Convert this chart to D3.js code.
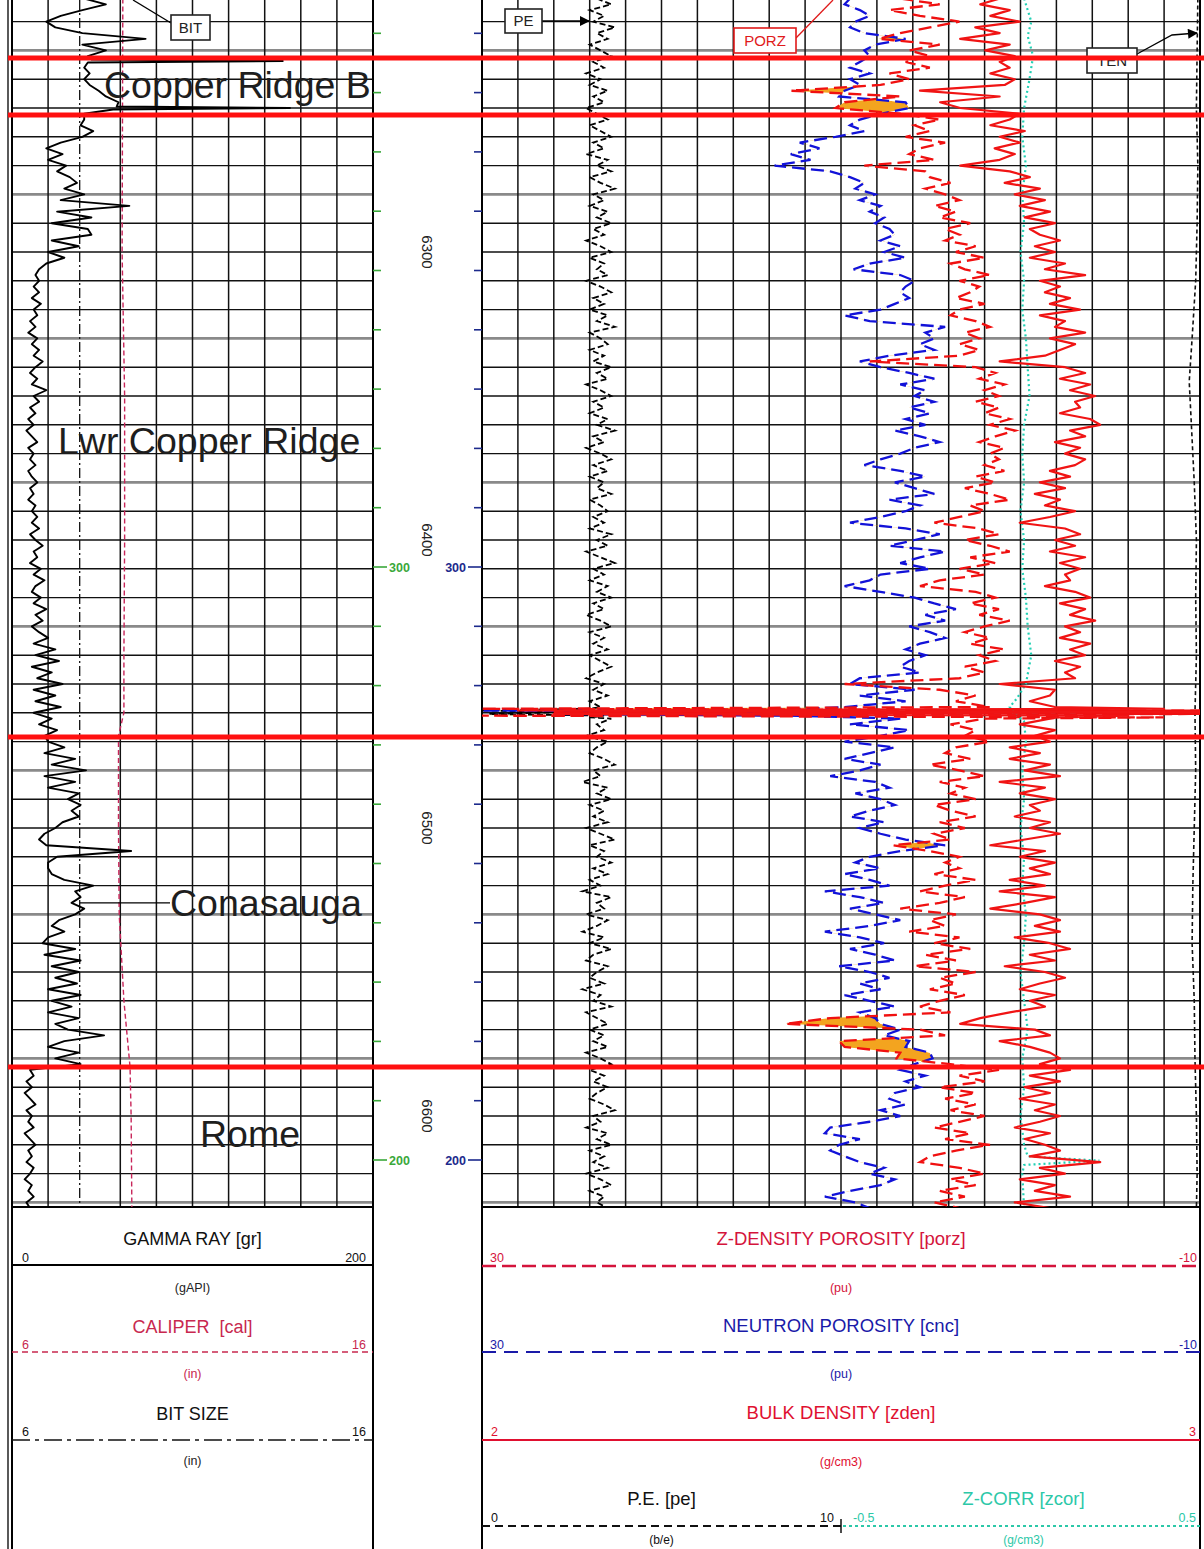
<!DOCTYPE html>
<html><head><meta charset="utf-8">
<script src="https://cdn.jsdelivr.net/npm/d3@7"></script>
<style>body{margin:0;background:#fff}svg{display:block}</style>
</head><body>
<script>
// ---------------- DATA ----------------
const depthStart = 6212, depthStep = 2;   // ft, sampling of the curve arrays below
const GR = [40,52,39,27,19,24,39,74,39,52,42,
42,40,43,40,43,48,52,59,60,40,
40,38,45,39,27,19,28,20,30,25,
32,36,29,40,27,65,25,44,22,42,
44,22,37,20,29,19,15,13,15,12,
15,11,16,12,14,10,13,9,14,11,
15,12,17,13,10,14,11,19,12,15,
10,13,9,12,8,11,14,9,12,10,
13,9,11,14,10,12,9,13,11,14,
11,15,10,13,17,12,14,10,16,12,
18,13,11,16,12,19,13,17,11,15,
20,12,24,13,26,11,22,14,28,12,
24,13,27,12,22,15,25,18,20,29,
18,35,22,41,18,35,20,37,31,38,
33,37,28,24,18,15,19,66,25,20,
20,22,29,45,35,38,33,40,35,26,
22,29,20,17,35,18,38,22,37,24,
36,20,38,22,33,20,37,24,31,51,
29,20,37,24,38,10,12,8,11,7,
10,13,8,11,9,12,7,10,13,9,
11,8,12,10,7,11,9,12,8,10];
// thin GR spikes inside Copper Ridge B
const grSpikeDepth = [6233.2,6233.7,6234.2, 6249.5,6250.0,6250.5];
const grSpikeGR    = [44,150,42, 58,154,56];
const PE = [3.2,3.6,3.0,3.4,3.1,3.7,3.2,3.5,3.0,3.3,3.6,
3.1,3.4,2.9,3.3,3.0,3.5,3.1,3.4,2.9,3.2,
3.5,3.0,3.3,3.6,3.1,3.4,2.9,3.5,3.2,3.6,
3.0,3.3,3.7,3.1,3.4,3.0,3.5,3.2,3.6,3.1,
3.4,2.9,3.3,3.6,3.0,3.4,3.2,3.5,2.9,3.3,
3.6,3.1,3.4,3.0,3.5,3.2,3.7,3.0,3.3,3.5,
3.0,3.4,3.1,3.6,3.2,3.5,2.9,3.3,3.6,3.1,
3.4,3.0,3.5,3.2,3.7,3.1,3.4,2.9,3.3,3.6,
3.1,3.5,3.0,3.4,3.2,3.6,3.0,3.3,3.5,3.1,
3.4,3.0,3.6,3.2,3.5,2.9,3.3,3.7,3.1,3.4,
3.0,3.5,3.2,3.6,3.1,3.4,2.9,3.3,3.6,3.0,
3.4,3.1,3.5,3.0,3.3,3.6,3.2,2.9,3.4,3.1,
3.5,3.0,3.3,3.1,3.6,3.2,3.4,2.9,3.5,3.2,
3.0,3.4,3.7,3.1,3.3,2.8,3.5,3.2,3.6,3.0,
3.4,3.1,3.5,2.9,3.3,3.7,3.0,3.4,3.2,3.6,
3.1,3.5,3.0,3.3,2.8,3.6,3.2,3.4,2.9,3.5,
3.2,2.8,3.4,3.0,3.6,3.1,2.9,3.5,3.2,3.0,
3.4,2.8,3.3,3.1,3.6,2.9,3.2,3.5,3.0,3.4,
3.1,3.5,2.9,3.3,3.6,3.0,3.4,3.1,3.5,3.2,
3.0,3.4,3.7,3.1,3.3,2.9,3.5,3.2,3.6,3.0,
3.4,3.1,3.5,2.9,3.3,3.6,3.0,3.4,3.2,3.5];
const NPHI = [9.5,9.8,8.95,8.4,9.2,9.5,8.7,6.4,8.1,8.7,8.4,
8.95,9.5,8.4,9.5,8.95,9.8,10.1,6.4,6.2,7.8,
8.95,9.5,8.7,10.3,12.3,11.2,12.8,11.7,13.7,10.6,
9.5,8.7,9.2,8.1,8.95,7.8,8.4,7.6,8.1,7.3,
7.0,7.8,6.7,7.6,6.4,8.4,9.3,6.7,5.9,6.4,
6.7,6.2,7.0,7.8,9.8,8.4,4.2,5.3,4.8,5.6,
4.8,7.3,8.95,7.8,6.2,4.8,6.7,5.3,5.9,4.8,
6.2,5.05,6.4,5.3,7.0,5.6,4.5,5.9,6.7,7.8,
8.7,6.7,5.3,7.0,5.9,4.8,7.3,5.6,6.4,7.8,
9.5,6.4,4.5,5.9,7.3,4.2,5.6,6.7,5.05,7.8,
8.4,9.8,7.8,5.9,4.8,3.6,5.3,4.2,6.2,5.05,
4.2,5.6,6.4,5.3,6.2,6.7,5.6,8.95,9.5,5.9,
8.95,6.4,9.8,8.0,6.7,9.5,6.2,7.8,9.8,7.0,
8.4,9.8,7.8,8.95,10.6,8.1,7.3,9.2,7.8,7.0,
8.4,9.5,7.6,8.95,7.8,6.4,4.2,6.7,8.4,9.2,
7.8,9.8,8.4,7.3,10.9,8.95,7.6,9.5,8.1,6.7,
8.4,10.9,8.95,7.6,9.5,8.1,7.0,10.1,8.4,7.3,
8.95,7.8,9.8,8.4,7.0,8.95,8.1,7.8,6.7,7.6,
6.2,6.4,5.05,4.9,5.9,6.7,5.3,6.4,5.6,7.0,
7.3,6.4,7.8,6.7,8.4,10.6,10.9,8.95,10.1,10.6,
9.8,8.95,7.6,8.4,7.0,7.8,9.5,10.9,9.2,8.4];
const PORZ = [6.7,4.5,7.3,5.6,3.4,5.05,6.7,7.9,4.5,6.2,5.05,
6.4,5.05,7.3,6.2,7.8,12.8,6.7,9.8,10.3,6.7,
4.5,5.9,5.05,6.4,4.2,5.6,6.2,4.8,8.7,5.3,
5.05,3.9,5.3,4.2,3.4,4.8,3.6,4.5,2.8,4.2,
3.4,4.2,2.5,3.6,2.0,3.9,3.1,1.7,3.4,2.3,
2.8,3.6,2.0,3.4,3.9,2.5,1.7,3.1,2.3,3.4,
2.3,3.4,8.4,2.5,1.4,2.3,0.9,2.0,1.2,2.5,
1.2,2.0,0.6,1.7,0.3,1.4,2.3,0.9,1.7,1.2,
2.0,0.9,2.5,1.4,3.1,1.7,0.6,2.8,2.0,3.4,
4.8,2.3,1.2,3.1,1.7,0.6,2.8,1.4,3.4,2.0,
4.5,5.6,2.5,1.4,2.8,1.2,2.3,0.6,2.0,3.1,
1.7,2.8,0.9,2.3,1.4,3.1,2.0,3.4,9.8,4.5,
2.5,3.6,1.7,3.4,2.0,3.9,2.5,3.1,1.7,3.6,
4.2,2.8,5.05,3.4,2.0,4.5,3.1,3.9,2.5,4.8,
3.9,2.5,4.5,3.1,4.8,3.9,7.1,5.05,3.4,4.2,
3.4,4.8,2.5,4.2,5.6,3.1,4.5,6.7,3.6,5.05,
4.2,6.2,3.4,4.8,2.8,5.3,3.6,5.9,2.5,4.5,
3.6,5.05,3.1,4.5,5.6,3.9,10.6,13.1,5.6,4.2,
10.1,9.8,6.7,6.9,3.9,1.2,3.4,2.0,4.5,2.5,
4.2,2.5,3.9,2.0,3.4,4.8,2.8,4.2,1.7,3.6,
5.05,5.6,3.4,2.0,3.9,2.5,4.5,3.1,4.8,3.4];
const ZDEN = [2.721,2.694,2.735,2.708,2.749,2.687,2.721,2.666,2.735,2.701,2.742,
2.721,2.735,2.708,2.742,2.728,2.610,2.721,2.638,2.666,2.749,
2.735,2.708,2.756,2.721,2.749,2.714,2.742,2.721,2.666,2.735,
2.763,2.728,2.777,2.742,2.784,2.749,2.791,2.756,2.798,2.763,
2.777,2.805,2.770,2.798,2.763,2.812,2.784,2.840,2.777,2.805,
2.784,2.819,2.791,2.833,2.777,2.812,2.798,2.840,2.791,2.826,
2.805,2.784,2.721,2.812,2.840,2.805,2.847,2.819,2.854,2.826,
2.833,2.805,2.847,2.861,2.819,2.840,2.798,2.833,2.812,2.840,
2.826,2.791,2.819,2.777,2.812,2.770,2.805,2.784,2.826,2.791,
2.749,2.812,2.833,2.798,2.826,2.791,2.840,2.805,2.833,2.812,
2.819,2.784,2.826,2.847,2.805,2.840,2.819,2.854,2.812,2.833,
2.805,2.847,2.819,2.840,2.798,2.833,2.812,2.826,2.721,2.798,
2.791,2.763,2.798,2.777,2.791,2.749,2.798,2.770,2.791,2.735,
2.777,2.735,2.791,2.756,2.805,2.721,2.784,2.749,2.798,2.763,
2.777,2.742,2.791,2.763,2.805,2.756,2.708,2.784,2.749,2.798,
2.763,2.791,2.735,2.784,2.721,2.798,2.756,2.708,2.777,2.805,
2.770,2.805,2.742,2.791,2.819,2.763,2.798,2.728,2.784,2.812,
2.777,2.749,2.798,2.763,2.784,2.735,2.694,2.666,2.770,2.791,
2.721,2.763,2.791,2.805,2.777,2.819,2.763,2.805,2.756,2.791,
2.749,2.798,2.770,2.805,2.777,2.742,2.791,2.756,2.784,2.805,
2.763,2.861,2.777,2.812,2.749,2.798,2.770,2.819,2.742,2.791];
// bad-data spike band (all density/neutron curves swing full scale)
const spikeDepth = [6458.6,6459.2,6459.8,6460.4,6461.0,6461.6];
const spikePORZ  = [30,-10,26,-10,30,-8];
const spikeNPHI  = [12,30,10,26,13,9];
const spikeZDEN  = [2.95,2.05,3.0,2.1,2.9,2.8];
const spikePE    = [3.0,0.0,2.2,0.2,3.4,3.0];
// smoother curves with their own depth samples
const calDepth = [6212,6300,6350,6400,6440,6460,6468,6500,6530,6560,6583,6600,6632];
const CAL      = [9.07,9.05,9.12,9.12,9.1,9.1,8.95,8.95,8.97,9.1,9.27,9.3,9.32];
const BIT_SIZE = 7.875;
const zcorDepth = [6212,6220,6225,6232,6240,6250,6260,6270,6280,6290,6300,6310,6320,6330,6340,6350,6360,6370,6380,6390,6400,6410,6420,6430,6440,6450,6455,6458,6460,6463,6470,6480,6490,6500,6510,6520,6530,6540,6550,6560,6570,6580,6590,6600,6610,6614,6615.5,6617,6620,6632];
const ZCOR = [0.01,0.03,0.02,0.035,0.025,0.01,0.005,0.015,0.005,0.01,0.0,0.01,0.005,0.015,0.02,0.025,0.01,0.005,0.01,0.0,0.01,0.005,0.015,0.02,0.03,0.015,-0.01,-0.03,-0.02,0.01,0.015,0.005,0.01,0.0,0.01,0.005,0.015,0.01,0.0,0.01,0.02,0.005,0.01,0.0,0.01,0.02,0.22,0.01,0.005,0.01];
const tenDepth = [6212,6230,6250,6270,6290,6310,6330,6345,6360,6380,6400,6420,6440,6460,6480,6500,6520,6540,6560,6580,6600,6620,6632];
const TEN = [4985,4980,4975,4985,4980,4970,4945,4925,4940,4960,4975,4970,4975,4965,4970,4960,4950,4945,4960,4965,4975,4980,4975];
// formation tops
const topDepths = [6232.6,6252.4,6468.4,6583.0];
const formationNames = ["Copper Ridge B","Lwr Copper Ridge","Conasauga","Rome"];
const formationLabelDepth = [6242,6365.3,6526,6606];
const depthLabels = [6300,6400,6500,6600];
const ttiLabels = [300,200];

// ---------------- LAYOUT ----------------
const W=1204,H=1549, TB=1207;
const LT={x0:12,x1:373}, RT={x0:482,x1:1200};
const FONT="'Liberation Sans',Arial,Helvetica,sans-serif";
const y = d3.scaleLinear().domain([6300,6400]).range([252,540]);
const xGR = d3.scaleLinear().domain([0,200]).range([LT.x0,LT.x1]);
const xCal = d3.scaleLinear().domain([6,16]).range([LT.x0,LT.x1]);
const xPE = d3.scaleLinear().domain([0,10]).range([RT.x0,(RT.x0+RT.x1)/2]);
const xPor = d3.scaleLinear().domain([30,-10]).range([RT.x0,RT.x1]);
const xDen = d3.scaleLinear().domain([2,3]).range([RT.x0,RT.x1]);
const xZc = d3.scaleLinear().domain([-0.5,0.5]).range([(RT.x0+RT.x1)/2,RT.x1]);
const xTen = d3.scaleLinear().domain([0,5000]).range([RT.x0,RT.x1]);
const tti = d3.scaleLinear().domain([300,200]).range([567,1160]);

const svg=d3.select("body").append("svg").attr("width",W).attr("height",H).style("font-family",FONT);
const defs=svg.append("defs");
defs.append("clipPath").attr("id","clipL").append("rect").attr("x",LT.x0).attr("y",0).attr("width",LT.x1-LT.x0).attr("height",TB);
defs.append("clipPath").attr("id","clipR").append("rect").attr("x",RT.x0).attr("y",0).attr("width",RT.x1-RT.x0).attr("height",TB);
defs.append("marker").attr("id","arr").attr("viewBox","0 0 10 10").attr("refX",9).attr("refY",5)
  .attr("markerWidth",16).attr("markerHeight",10).attr("orient","auto").attr("markerUnits","userSpaceOnUse")
  .append("path").attr("d","M0,0L10,5L0,10Z").attr("fill","#000");

// records
function mergeSpikes(base, spikes){
  const lo=d3.min(spikes,s=>s.d)-0.3, hi=d3.max(spikes,s=>s.d)+0.3;
  return base.filter(r=>r.d<lo||r.d>hi).concat(spikes).sort((a,b)=>a.d-b.d);
}
const rows = GR.map((g,i)=>({d:depthStart+i*depthStep, gr:g, pe:PE[i], nphi:NPHI[i], porz:PORZ[i], zden:ZDEN[i]}));
let grRows = rows.map(r=>({d:r.d, gr:r.gr}));
grRows = mergeSpikes(grRows, grSpikeDepth.slice(0,3).map((d,i)=>({d, gr:grSpikeGR[i]})));
grRows = mergeSpikes(grRows, grSpikeDepth.slice(3).map((d,i)=>({d, gr:grSpikeGR[i+3]})));
const rRows = mergeSpikes(rows, spikeDepth.map((d,i)=>({d, pe:spikePE[i], nphi:spikeNPHI[i], porz:spikePORZ[i], zden:spikeZDEN[i]})));

// ---------------- GRID ----------------
const grid=svg.append("g");
const gridDepths=d3.range(6220,6640,10).filter(d=>y(d)<TB);
[LT,RT].forEach(t=>{
  grid.selectAll(null).data(gridDepths).enter().append("line")
    .attr("x1",t.x0).attr("x2",t.x1).attr("y1",d=>y(d)).attr("y2",d=>y(d))
    .attr("stroke",d=>((d-6230)%50===0)?"#8a8a8a":"#111")
    .attr("stroke-width",d=>((d-6230)%50===0)?2.6:1.4);
});
grid.selectAll(null).data(d3.range(20,200,20).filter(v=>v!==40)).enter().append("line")
  .attr("x1",d=>xGR(d)).attr("x2",d=>xGR(d)).attr("y1",0).attr("y2",TB).attr("stroke","#111").attr("stroke-width",1.5);
const xDiv=d3.scaleLinear().domain([0,20]).range([RT.x0,RT.x1]);
grid.selectAll(null).data(d3.range(1,20)).enter().append("line")
  .attr("x1",d=>xDiv(d)).attr("x2",d=>xDiv(d)).attr("y1",0).attr("y2",TB).attr("stroke","#111").attr("stroke-width",1.5);

// borders
const bd=svg.append("g").attr("stroke","#000");
[[8,8,0,H,1.3],[LT.x0,LT.x0,0,H,2],[LT.x1,LT.x1,0,H,2],[RT.x0,RT.x0,0,H,2],[RT.x1,RT.x1,0,H,2]].forEach(a=>
  bd.append("line").attr("x1",a[0]).attr("x2",a[1]).attr("y1",a[2]).attr("y2",a[3]).attr("stroke-width",a[4]));
bd.append("line").attr("x1",LT.x0).attr("x2",LT.x1).attr("y1",TB).attr("y2",TB).attr("stroke-width",2);
bd.append("line").attr("x1",RT.x0).attr("x2",RT.x1).attr("y1",TB).attr("y2",TB).attr("stroke-width",2);

// depth track ticks & labels
const dt=svg.append("g");
const ttiTicks=d3.range(200,400,10).filter(v=>tti(v)>2&&tti(v)<TB-2);
dt.selectAll(null).data(ttiTicks).enter().append("line")
  .attr("x1",LT.x1).attr("x2",d=>ttiLabels.includes(d)?LT.x1+14:LT.x1+8)
  .attr("y1",d=>tti(d)).attr("y2",d=>tti(d)).attr("stroke","#3aa83a").attr("stroke-width",1.6);
dt.selectAll(null).data(ttiTicks).enter().append("line")
  .attr("x1",RT.x0).attr("x2",d=>ttiLabels.includes(d)?RT.x0-14:RT.x0-8)
  .attr("y1",d=>tti(d)).attr("y2",d=>tti(d)).attr("stroke","#1c2a8c").attr("stroke-width",1.6);
dt.selectAll(null).data(ttiLabels).enter().append("text").attr("x",LT.x1+16).attr("y",d=>tti(d)+4.5)
  .attr("font-size",12.5).attr("font-weight","bold").attr("fill","#3aa83a").text(d=>d);
dt.selectAll(null).data(ttiLabels).enter().append("text").attr("x",RT.x0-16).attr("y",d=>tti(d)+4.5)
  .attr("text-anchor","end").attr("font-size",12.5).attr("font-weight","bold").attr("fill","#1c2a8c").text(d=>d);
dt.selectAll(null).data(depthLabels).enter().append("text")
  .attr("transform",d=>`translate(427,${y(d)}) rotate(90)`).attr("text-anchor","middle").attr("dy","0.35em")
  .attr("font-size",15).attr("fill","#222").text(d=>d);

// ---------------- LEFT TRACK CURVES ----------------
const gL=svg.append("g").attr("clip-path","url(#clipL)");
gL.append("path").datum(d3.zip(calDepth,CAL)).attr("fill","none").attr("stroke","#c8265a").attr("stroke-width",1.4)
  .attr("stroke-dasharray","5,3").attr("d",d3.line().x(p=>xCal(p[1])).y(p=>y(p[0])));
gL.append("line").attr("x1",xCal(BIT_SIZE)).attr("x2",xCal(BIT_SIZE)).attr("y1",0).attr("y2",TB)
  .attr("stroke","#111").attr("stroke-width",1.3).attr("stroke-dasharray","10,3,2,3");
gL.append("path").datum(grRows).attr("fill","none").attr("stroke","#000").attr("stroke-width",1.9).attr("stroke-linejoin","round")
  .attr("d",d3.line().x(r=>xGR(r.gr)).y(r=>y(r.d)));

// ---------------- RIGHT TRACK CURVES ----------------
const gR=svg.append("g").attr("clip-path","url(#clipR)");
defs.append("clipPath").attr("id","clipX").append("path")
  .attr("d",d3.area().x0(RT.x0).x1(r=>xPor(r.nphi)).y(r=>y(r.d))(rRows));
gR.append("path").attr("clip-path","url(#clipX)").attr("fill","#f3a41f").attr("stroke","none")
  .attr("d",d3.area().x0(r=>xPor(r.porz)).x1(r=>xPor(r.nphi)).y(r=>y(r.d))(rRows));
gR.append("path").datum(tenDepth.map((d,i)=>[d,TEN[i]])).attr("fill","none").attr("stroke","#111").attr("stroke-width",1.6)
  .attr("stroke-dasharray","4,3").attr("d",d3.line().x(p=>xTen(p[1])).y(p=>y(p[0])));
gR.append("path").datum(rRows).attr("fill","none").attr("stroke","#000").attr("stroke-width",1.8)
  .attr("stroke-dasharray","6,3").attr("d",d3.line().x(r=>xPE(r.pe)).y(r=>y(r.d)));
gR.append("path").datum(rRows).attr("fill","none").attr("stroke","#1212d8").attr("stroke-width",2.3)
  .attr("stroke-dasharray","13,6").attr("d",d3.line().x(r=>xPor(r.nphi)).y(r=>y(r.d)));
gR.append("path").datum(rRows).attr("fill","none").attr("stroke","#f01010").attr("stroke-width",2.3)
  .attr("stroke-dasharray","13,6").attr("d",d3.line().x(r=>xPor(r.porz)).y(r=>y(r.d)));
gR.append("path").datum(zcorDepth.map((d,i)=>[d,ZCOR[i]])).attr("fill","none").attr("stroke","#22d0b4").attr("stroke-width",2.2)
  .attr("stroke-dasharray","2,3").attr("d",d3.line().x(p=>xZc(p[1])).y(p=>y(p[0])));
gR.append("path").datum(rRows).attr("fill","none").attr("stroke","#f01414").attr("stroke-width",2.2).attr("stroke-linejoin","round")
  .attr("d",d3.line().x(r=>xDen(r.zden)).y(r=>y(r.d)));

// ---------------- ANNOTATIONS ----------------
const an=svg.append("g").attr("font-size",15);
function box(x,yy,w,h,txt,col){
  an.append("rect").attr("x",x).attr("y",yy).attr("width",w).attr("height",h).attr("fill","#fff").attr("stroke",col).attr("stroke-width",1.6);
  an.append("text").attr("x",x+w/2).attr("y",yy+h/2).attr("dy","0.36em").attr("text-anchor","middle").attr("fill",col).text(txt);
}
an.append("line").attr("x1",171).attr("y1",23).attr("x2",133).attr("y2",0).attr("stroke","#000").attr("stroke-width",1.3);
box(171,15,39,25,"BIT","#222");
an.append("line").attr("x1",542).attr("y1",21).attr("x2",589).attr("y2",21).attr("stroke","#000").attr("stroke-width",1.3).attr("marker-end","url(#arr)");
box(505,9,37,24,"PE","#222");
an.append("line").attr("x1",796).attr("y1",38).attr("x2",833).attr("y2",0).attr("stroke","#e01a1a").attr("stroke-width",1.3);
box(734,28,62,25,"PORZ","#e01a1a");
an.append("path").attr("d","M1137,54L1172,35L1197,33").attr("fill","none").attr("stroke","#000").attr("stroke-width",1.3).attr("marker-end","url(#arr)");
box(1087,48,50,25,"TEN","#222");

const fx=[104,58,170,200];
svg.append("g").selectAll(null).data(formationNames).enter().append("text")
  .attr("x",(d,i)=>fx[i]).attr("y",(d,i)=>y(formationLabelDepth[i])).attr("dy","0.36em")
  .attr("font-size",37.5).attr("fill","#1e1e1e").text(d=>d);
svg.append("line").attr("x1",80).attr("x2",170).attr("y1",y(formationLabelDepth[2])).attr("y2",y(formationLabelDepth[2]))
  .attr("stroke","#000").attr("stroke-width",1.4);
svg.append("g").selectAll(null).data(topDepths).enter().append("line")
  .attr("x1",8).attr("x2",W).attr("y1",d=>y(d)).attr("y2",d=>y(d)).attr("stroke","#ff1010").attr("stroke-width",5);

// ---------------- HEADER ----------------
const hd=svg.append("g");
function htxt(x,yy,t,size,col,anchor){hd.append("text").attr("x",x).attr("y",yy).attr("font-size",size).attr("fill",col).attr("text-anchor",anchor||"middle").attr("xml:space","preserve").text(t);}
function hline(x1,x2,yy,col,w,dash){const l=hd.append("line").attr("x1",x1).attr("x2",x2).attr("y1",yy).attr("y2",yy).attr("stroke",col).attr("stroke-width",w);if(dash)l.attr("stroke-dasharray",dash);}
const lc=(LT.x0+LT.x1)/2, rc=(RT.x0+RT.x1)/2;
htxt(lc,1245,"GAMMA RAY [gr]",18,"#111");
htxt(22,1262,"0",12.5,"#111","start"); htxt(366,1262,"200",12.5,"#111","end");
hline(LT.x0,LT.x1,1265,"#000",2.2);
htxt(lc,1292,"(gAPI)",12.5,"#222");
htxt(lc,1333,"CALIPER\u00a0\u00a0[cal]",18,"#c8284f");
htxt(22,1349,"6",12.5,"#c8284f","start"); htxt(366,1349,"16",12.5,"#c8284f","end");
hline(LT.x0,LT.x1,1352,"#c8284f",1.4,"6,4");
htxt(lc,1378,"(in)",12.5,"#c8284f");
htxt(lc,1420,"BIT SIZE",18,"#111");
htxt(22,1436,"6",12.5,"#111","start"); htxt(366,1436,"16",12.5,"#111","end");
hline(LT.x0,LT.x1,1440,"#111",1.6,"18,5,4,5");
htxt(lc,1465,"(in)",12.5,"#222");
htxt(rc,1245,"Z-DENSITY POROSITY [porz]",18.5,"#d4143c");
htxt(490,1262,"30",12.5,"#d4143c","start"); htxt(1197,1262,"-10",12.5,"#d4143c","end");
hline(RT.x0,RT.x1,1266,"#d4143c",2.4,"14,6");
htxt(rc,1292,"(pu)",12.5,"#d4143c");
htxt(rc,1332,"NEUTRON POROSITY [cnc]",18.5,"#1a1aa8");
htxt(490,1349,"30",12.5,"#1a1aa8","start"); htxt(1197,1349,"-10",12.5,"#1a1aa8","end");
hline(RT.x0,RT.x1,1352,"#1a1aa8",1.8,"14,8");
htxt(rc,1378,"(pu)",12.5,"#1a1aa8");
htxt(rc,1419,"BULK DENSITY [zden]",18.5,"#e01030");
htxt(491,1436,"2",12.5,"#e01030","start"); htxt(1196,1436,"3",12.5,"#e01030","end");
hline(RT.x0,RT.x1,1440,"#e01030",2.2);
htxt(rc,1466,"(g/cm3)",12.5,"#e01030");
const pc=(RT.x0+rc)/2, zc=(rc+RT.x1)/2+3;
htxt(pc,1505,"P.E. [pe]",18.5,"#111");
htxt(zc,1505,"Z-CORR [zcor]",18.5,"#2cc8a8");
htxt(491,1522,"0",12.5,"#111","start"); htxt(834,1522,"10",12.5,"#111","end");
htxt(853,1522,"-0.5",12.5,"#2cc8a8","start"); htxt(1196,1522,"0.5",12.5,"#2cc8a8","end");
hline(RT.x0,rc,1526,"#111",2.2,"8,5");
hline(rc+2,RT.x1,1526,"#2cc8a8",2.2,"3,3");
hd.append("line").attr("x1",rc).attr("x2",rc).attr("y1",1519).attr("y2",1533).attr("stroke","#111").attr("stroke-width",1.5);
htxt(pc,1544,"(b/e)",12,"#111");
htxt(zc,1544,"(g/cm3)",12,"#2cc8a8");
</script>
</body></html>
